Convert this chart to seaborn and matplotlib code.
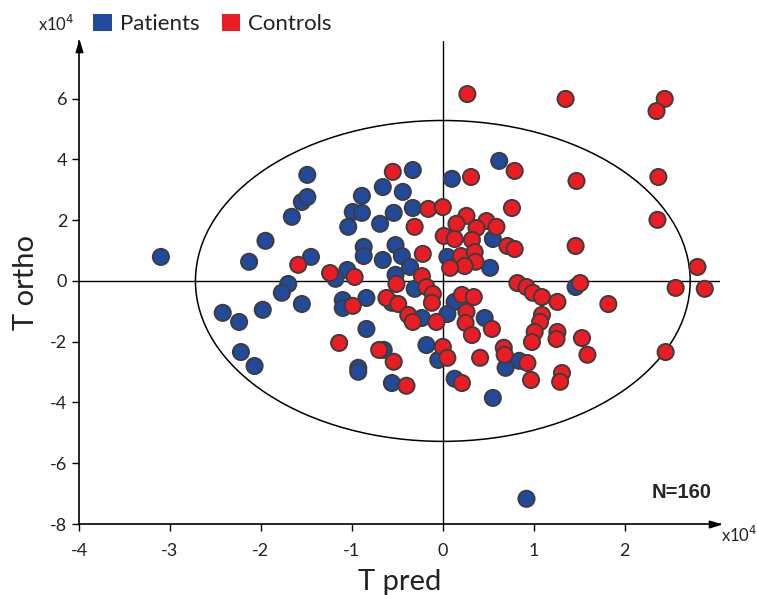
import numpy as np
import pandas as pd
import seaborn as sns
import matplotlib.pyplot as plt
from matplotlib.patches import Ellipse, Patch

# Score coordinates (units of 10^4)
patients_x = [-3.10, -2.13, -1.95, -1.66, -1.55, -1.49, -1.49, -1.45, -1.70, -1.77,
              -1.55, -1.98, -2.42, -2.24, -2.22, -2.07, -0.33, -0.66, -0.44, -0.89,
              -0.99, -0.89, -0.54, -0.33, -1.04, -0.69, -0.87, -0.87, -0.66, -0.52,
              -0.45, -1.05, -1.18, -0.36, -0.52, -0.31, -0.56, -1.10, -1.10, -0.84,
              -0.84, -0.65, -0.93, -0.93, -0.56, -0.23, -0.18, -0.05, 0.13, 0.55,
              0.10, 0.62, 0.55, 0.05, 0.52, 0.13, 0.05, 0.46, 0.84, 0.69,
              1.46, 0.92]
patients_y = [0.79, 0.63, 1.32, 2.11, 2.60, 2.76, 3.49, 0.79, -0.10, -0.39,
              -0.76, -0.95, -1.05, -1.35, -2.34, -2.80, 3.65, 3.09, 2.93, 2.80,
              2.27, 2.24, 2.24, 2.40, 1.78, 1.88, 1.12, 0.82, 0.69, 1.18,
              0.82, 0.36, 0.07, 0.46, 0.20, -0.26, -0.72, -0.63, -0.89, -0.56,
              -1.58, -2.27, -2.86, -2.99, -3.36, -1.22, -2.11, -2.60, -3.22, -3.85,
              3.36, 3.95, 1.38, 0.79, 0.43, -0.69, -1.09, -1.22, -2.63, -2.86,
              -0.20, -7.17]

controls_x = [-1.59, -0.55, -0.16, 0.00, -0.31, -0.22, -1.24, -0.97, -0.23, -0.51,
              -0.18, -0.11, -0.62, -0.49, -0.12, -0.99, -0.38, -0.33, -0.07, -1.14,
              -0.70, -0.54, -0.40, 0.00, 0.05, 0.21, 0.27, 0.31, 0.79, 0.76,
              0.26, 0.15, 0.48, 0.59, 0.37, 0.01, 0.13, 0.32, 0.71, 0.79,
              0.20, 0.35, 0.36, 0.24, 0.08, 0.82, 0.92, 0.99, 1.09, 1.26,
              0.21, 0.34, 0.26, 0.25, 0.32, 0.54, 1.09, 1.07, 1.01, 0.98,
              1.26, 1.25, 0.41, 0.67, 0.68, 0.93, 0.97, 1.31, 1.29, 1.35,
              2.44, 2.35, 1.47, 2.37, 2.36, 1.46, 2.80, 1.51, 2.56, 2.88,
              1.82, 1.53, 1.59, 2.45]
controls_y = [0.53, 3.59, 2.37, 2.43, 1.78, 0.89, 0.26, 0.13, 0.16, -0.10,
              -0.20, -0.43, -0.56, -0.76, -0.72, -0.82, -1.12, -1.35, -1.35, -2.04,
              -2.27, -2.66, -3.45, -2.17, -2.53, -3.36, 6.15, 3.42, 3.62, 2.40,
              2.14, 1.88, 1.97, 1.78, 1.74, 1.48, 1.38, 1.35, 1.15, 1.05,
              0.82, 0.95, 0.63, 0.49, 0.43, -0.07, -0.20, -0.39, -0.53, -0.69,
              -0.46, -0.53, -1.02, -1.38, -1.78, -1.58, -1.12, -1.35, -1.68, -2.01,
              -1.68, -1.91, -2.53, -2.20, -2.43, -2.70, -3.26, -3.03, -3.32, 5.99,
              5.99, 5.59, 3.29, 3.42, 2.01, 1.15, 0.46, -0.07, -0.23, -0.26,
              -0.76, -1.88, -2.43, -2.34]

groups = ["Patients", "Controls"]
group_colors = ["#214a9c", "#ec1c24"]
x_ticks = [-4, -3, -2, -1, 0, 1, 2]
y_ticks = [-8, -6, -4, -2, 0, 2, 4, 6]
sample_label = "N=160"
ellipse_half_width = 2.72
ellipse_half_height = 5.28

df = pd.concat([
    pd.DataFrame({"t_pred": patients_x, "t_ortho": patients_y, "group": groups[0]}),
    pd.DataFrame({"t_pred": controls_x, "t_ortho": controls_y, "group": groups[1]}),
], ignore_index=True)

sns.set_style("ticks")
plt.rcParams["font.family"] = ["Lato", "DejaVu Sans"]

fig = plt.figure(figsize=(7.57, 5.95), dpi=100)
ax = fig.add_axes([0.1044, 0.1193, 0.847, 0.812])

# reference lines through the origin and the confidence ellipse
ax.axhline(0, color="black", lw=1.0, zorder=1)
ax.axvline(0, color="black", lw=1.0, zorder=1)
ax.add_patch(Ellipse((0, 0), 2 * ellipse_half_width, 2 * ellipse_half_height,
                     fill=False, edgecolor="black", lw=1.1, zorder=1))

sns.scatterplot(data=df, x="t_pred", y="t_ortho", hue="group",
                palette=dict(zip(groups, group_colors)), s=135,
                edgecolor="#3d3d3d", linewidth=1.4, alpha=1, legend=False,
                zorder=3, ax=ax)

ax.set_xlim(-4, 3.05)
ax.set_ylim(-8, 7.9)
ax.set_xticks(x_ticks)
ax.set_yticks(y_ticks)
ax.set_xticklabels([str(t) for t in x_ticks])
ax.set_yticklabels([str(t) for t in y_ticks])
ax.tick_params(axis="both", direction="out", length=5, width=1.0,
               labelsize=13, colors="black", labelcolor="#222222")
ax.tick_params(axis="x", pad=9)

for side in ("top", "right"):
    ax.spines[side].set_visible(False)
for side in ("left", "bottom"):
    ax.spines[side].set_linewidth(1.2)
    ax.spines[side].set_color("black")

# arrow heads at the axis ends
head_x = [(0, 0), (-2.0, -0.6), (-2.0, 0.6), (0, 0)]
head_y = [(0, 0), (-0.6, -2.0), (0.6, -2.0), (0, 0)]
ax.plot([1.0], [0.0], marker=head_x, ms=16, color="black", transform=ax.transAxes,
        clip_on=False, zorder=5)
ax.plot([0.0], [1.0], marker=head_y, ms=16, color="black", transform=ax.transAxes,
        clip_on=False, zorder=5)

ax.set_xlabel("T pred", fontsize=21, color="#222222", labelpad=7)
ax.set_ylabel("T ortho", fontsize=21, color="#222222", labelpad=8)

fig.text(38 / 757, 1 - 24 / 595, r"x10$^{4}$", fontsize=12, color="#222222",
         va="center", ha="left")
fig.text(721 / 757, 1 - 535 / 595, r"x10$^{4}$", fontsize=12, color="#222222",
         va="center", ha="left")

ax.text(0.94, 0.066, sample_label, transform=ax.transAxes, fontsize=14.5,
        fontweight="bold", ha="center", va="center",
        family=["Liberation Sans", "DejaVu Sans"])

handles = [Patch(facecolor=c, edgecolor="none", label=g)
           for g, c in zip(groups, group_colors)]
fig.legend(handles=handles, loc="center left",
           bbox_to_anchor=(93 / 757, 1 - 24 / 595), ncol=2, frameon=False,
           fontsize=16, handlelength=0.85, handleheight=0.85, handletextpad=0.35,
           columnspacing=1.0, borderpad=0, borderaxespad=0, labelcolor="#222222")

fig.savefig("out.png", dpi=100)
